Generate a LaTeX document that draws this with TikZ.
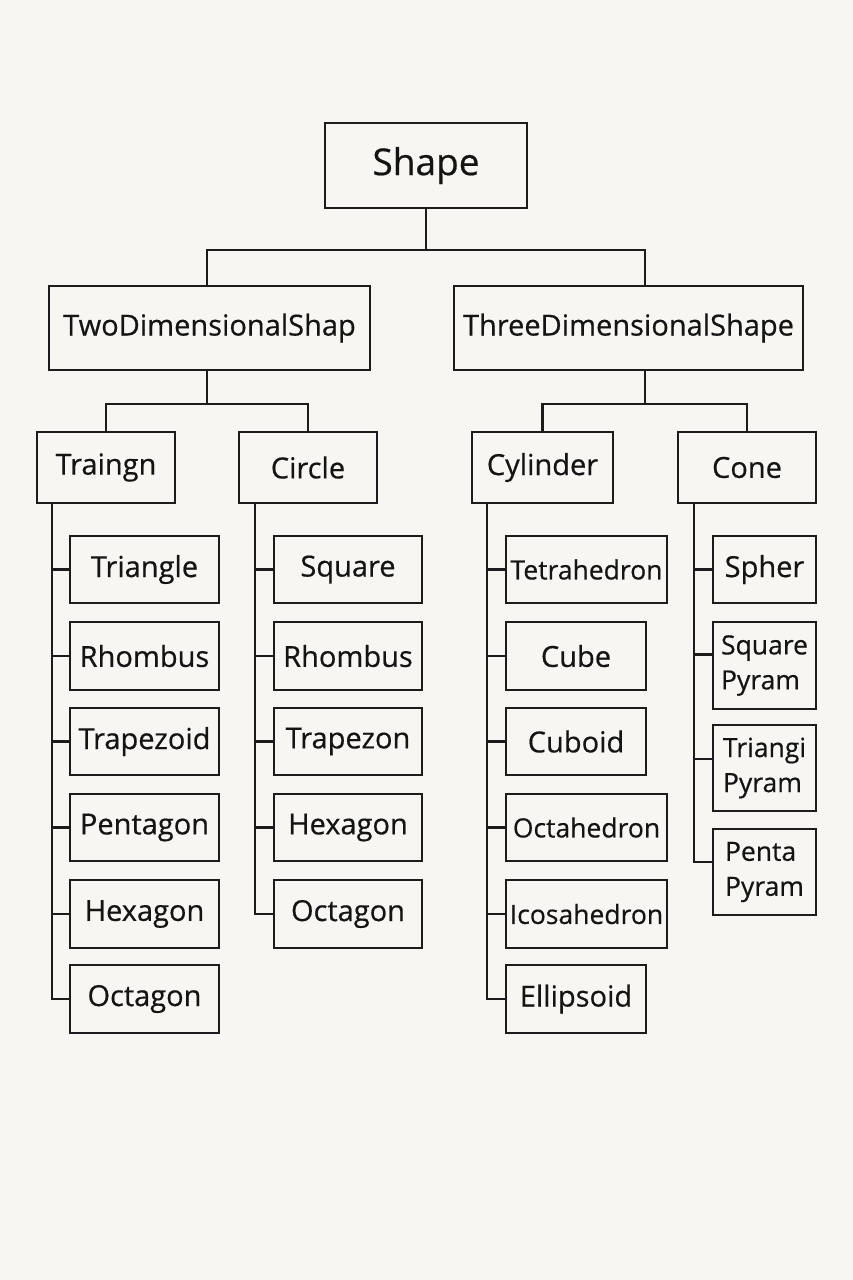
\documentclass[tikz,border=0pt]{standalone}
\usepackage{fontspec}
\setmainfont{Open Sans}[FakeBold=0.5]
\definecolor{bg}{RGB}{247,246,243}
\definecolor{ln}{RGB}{28,28,28}
\tikzset{
  bx/.style={draw=ln, line width=2.5pt, inner sep=0pt, align=center, text=black!92},
  cn/.style={draw=ln, line width=2.8pt, line join=miter},
  fa/.style={font=\fontsize{37}{44}\selectfont},
  fb/.style={font=\fontsize{29}{34}\selectfont},
  fc/.style={font=\fontsize{29}{34}\selectfont},
  fd/.style={font=\fontsize{26.5}{34}\selectfont},
  fe/.style={font=\fontsize{26.5}{35}\selectfont, align=left},
}
\newcommand{\mybox}[7][]{%
  \node[bx,#1,minimum width={(#5-#3)*1pt},minimum height={(#6-#4)*1pt}] (#2) at ({(#3+#5)/2},{(#4+#6)/2}) {#7};}
\begin{document}
\begin{tikzpicture}[x=1pt,y=-1pt]
\fill[bg] (0,0) rectangle (853,1280);
\useasboundingbox (0,0) rectangle (853,1280);
% level 0-2
\mybox[fa]{top}{325}{123}{527}{208}{Shape}
\mybox[fb]{two}{49}{286}{370}{370}{TwoDimensionalShap}
\mybox[fb]{three}{454}{286}{803}{370}{ThreeDimensionalShape}
\mybox[fb]{tri}{37}{432}{175}{503}{Traingn}
\mybox[fb]{circ}{239}{432}{377}{503}{Circle}
\mybox[fb]{cyl}{472}{432}{613}{503}{Cylinder}
\mybox[fb]{cone}{678}{432}{816}{503}{Cone}
% left list
\mybox[fc]{l1}{70}{536}{219}{603}{Triangle}
\mybox[fc]{l2}{70}{622}{219}{690}{Rhombus}
\mybox[fc]{l3}{70}{708}{219}{775}{Trapezoid}
\mybox[fc]{l4}{70}{794}{219}{861}{Pentagon}
\mybox[fc]{l5}{70}{880}{219}{948}{Hexagon}
\mybox[fc]{l6}{70}{965}{219}{1033}{Octagon}
% circle list
\mybox[fc]{c1}{274}{536}{422}{603}{Square}
\mybox[fc]{c2}{274}{622}{422}{690}{Rhombus}
\mybox[fc]{c3}{274}{708}{422}{775}{Trapezon}
\mybox[fc]{c4}{274}{794}{422}{861}{Hexagon}
\mybox[fc]{c5}{274}{880}{422}{948}{Octagon}
% cylinder list
\mybox[fd]{y1}{506}{536}{667}{603}{Tetrahedron}
\mybox[fc]{y2}{506}{622}{646}{690}{Cube}
\mybox[fc]{y3}{506}{708}{646}{775}{Cuboid}
\mybox[fd]{y4}{506}{794}{667}{861}{Octahedron}
\mybox[fd]{y5}{506}{880}{667}{948}{Icosahedron}
\mybox[fc]{y6}{506}{965}{646}{1033}{Ellipsoid}
% cone list
\mybox[fc]{s1}{713}{536}{816}{603}{Spher}
\mybox[fe]{s2}{713}{622}{816}{709}{Square\\Pyram}
\mybox[fe]{s3}{713}{725}{816}{811}{Triangi\\Pyram}
\mybox[fe]{s4}{713}{829}{816}{915}{Penta\\Pyram}
% connectors level 0-1
\coordinate (a0) at (427,250);
\coordinate (aL) at (207,250);
\coordinate (aR) at (645,250);
\draw[cn] (top.south) -- (top.south |- a0);
\draw[cn] (aL |- two.north) -- (aL) -- (aR) -- (aR |- three.north);
% level 1-2
\coordinate (bL) at (207,404);
\coordinate (bR) at (645,404);
\draw[cn] (bL |- two.south) -- (bL);
\draw[cn] (tri.north) -- (tri.north |- bL) -- (circ.north |- bL) -- (circ.north);
\draw[cn] (bR |- three.south) -- (bR);
\draw[cn] (cyl.north) -- (cyl.north |- bR) -- (cone.north |- bR) -- (cone.north);
% lists
\coordinate (xl) at (52,0);
\draw[cn] (xl |- tri.south) -- (xl |- l6.west) -- (l6.west);
\foreach \n in {l1,l2,l3,l4,l5} \draw[cn] (xl |- \n.west) -- (\n.west);
\coordinate (xc) at (255,0);
\draw[cn] (xc |- circ.south) -- (xc |- c5.west) -- (c5.west);
\foreach \n in {c1,c2,c3,c4} \draw[cn] (xc |- \n.west) -- (\n.west);
\coordinate (xy) at (487,0);
\draw[cn] (xy |- cyl.south) -- (xy |- y6.west) -- (y6.west);
\foreach \n in {y1,y2,y3,y4,y5} \draw[cn] (xy |- \n.west) -- (\n.west);
\coordinate (xs) at (694,0);
\coordinate (p2) at ([yshift=11pt]s2.west);
\coordinate (p3) at ([yshift=9pt]s3.west);
\coordinate (p4) at ([yshift=10pt]s4.west);
\draw[cn] (xs |- cone.south) -- (xs |- p4) -- (p4);
\draw[cn] (xs |- s1.west) -- (s1.west);
\draw[cn] (xs |- p2) -- (p2);
\draw[cn] (xs |- p3) -- (p3);
\end{tikzpicture}
\end{document}
